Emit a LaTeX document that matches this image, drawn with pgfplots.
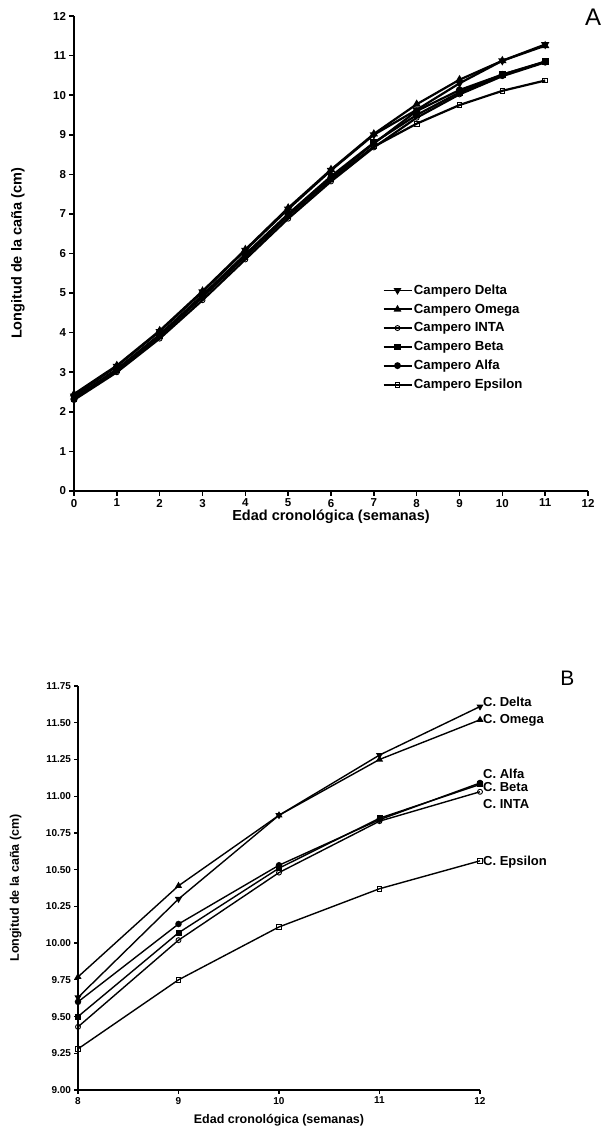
\documentclass[border=0pt]{standalone}
\usepackage{pgfplots}
\pgfplotsset{compat=1.18}
\usepackage{fontspec}
\setmainfont{Liberation Sans}
\begin{document}
\begin{tikzpicture}
\path (0pt,0pt) rectangle (604pt,-1130pt);
\pgfplotsset{
  every axis/.append style={
    scale only axis,
    axis lines=left,
    axis line style={-, line width=1.9pt},
    tick align=outside,
    major tick length=4.5pt,
    tick style={line width=1.6pt, black},
    /pgf/number format/assume math mode=true,
    clip=false,
  },
  dl/.style={black, line width=#1, mark=triangle*, mark options={rotate=180, scale=1.35, solid, fill=black}},
  om/.style={black, line width=#1, mark=triangle*, mark options={scale=1.35, solid, fill=black}},
  it/.style={black, line width=#1, mark=o, mark options={scale=1.25, solid, fill=white, line width=0.9pt}},
  bt/.style={black, line width=#1, mark=square*, mark options={scale=1.15, solid, fill=black}},
  al/.style={black, line width=#1, mark=*, mark options={scale=1.25, solid, fill=black}},
  ep/.style={black, line width=#1, mark=square, mark options={scale=1.15, solid, fill=white, line width=0.9pt}},
}
% ---------------- Panel A ----------------
\begin{axis}[
  at={(74pt,-491pt)}, anchor=south west,
  width=514pt, height=475pt,
  xmin=0, xmax=12, ymin=0, ymax=12,
  xtick={0,...,12}, ytick={0,...,12},
  tick label style={font=\fontsize{11.5}{13}\selectfont\bfseries},
  xlabel={\bfseries Edad cronológica (semanas)},
  ylabel={\bfseries Longitud de la caña (cm)},
  xlabel style={font=\fontsize{14.5}{16}\selectfont, at={(axis description cs:0.5,-0.055)}, anchor=center},
  ylabel style={font=\fontsize{14.5}{16}\selectfont, at={(axis description cs:-0.109,0.5)}, anchor=center},
  legend style={draw=none, fill=none, at={(axis cs:7.2,5.25)}, anchor=north west,
    font=\fontsize{13.2}{15}\selectfont\bfseries, row sep=5pt, inner sep=0pt,
    nodes={inner sep=1.5pt}},
  legend cell align=left,
  legend image code/.code={\draw[mark repeat=2, mark phase=2, #1, line width=1.8pt] plot coordinates {(0pt,0pt) (14pt,0pt) (28pt,0pt)};},
]
\addplot[dl=2.2pt] coordinates {(0,2.40) (1,3.15) (2,4.03) (3,5.03) (4,6.08) (5,7.12) (6,8.10) (7,9.00) (8,9.63) (9,10.30) (10,10.87) (11,11.28)};
\addlegendentry{Campero Delta}
\addplot[om=2.2pt] coordinates {(0,2.45) (1,3.17) (2,4.05) (3,5.05) (4,6.10) (5,7.15) (6,8.12) (7,9.02) (8,9.77) (9,10.39) (10,10.87) (11,11.25)};
\addlegendentry{Campero Omega}
\addplot[it=2.2pt] coordinates {(0,2.30) (1,3.00) (2,3.85) (3,4.82) (4,5.85) (5,6.88) (6,7.82) (7,8.68) (8,9.43) (9,10.02) (10,10.48) (11,10.83)};
\addlegendentry{Campero INTA}
\addplot[bt=2.2pt] coordinates {(0,2.35) (1,3.08) (2,3.95) (3,4.95) (4,5.98) (5,7.00) (6,7.95) (7,8.80) (8,9.50) (9,10.07) (10,10.52) (11,10.85)};
\addlegendentry{Campero Beta}
\addplot[al=2.2pt] coordinates {(0,2.32) (1,3.05) (2,3.92) (3,4.92) (4,5.95) (5,6.98) (6,7.92) (7,8.78) (8,9.60) (9,10.13) (10,10.52) (11,10.84)};
\addlegendentry{Campero Alfa}
\addplot[ep=2.2pt] coordinates {(0,2.33) (1,3.05) (2,3.90) (3,4.90) (4,5.92) (5,6.95) (6,7.88) (7,8.70) (8,9.28) (9,9.75) (10,10.11) (11,10.37)};
\addlegendentry{Campero Epsilon}
\node[font=\fontsize{24}{26}\selectfont, anchor=center] at (axis cs:12.12,11.98) {A};
\end{axis}
% ---------------- Panel B ----------------
\begin{axis}[
  at={(78pt,-1090pt)}, anchor=south west,
  width=402pt, height=404pt,
  xmin=8, xmax=12, ymin=9, ymax=11.75,
  xtick={8,...,12}, ytick={9,9.25,...,11.75},
  yticklabel style={/pgf/number format/.cd, fixed, fixed zerofill, precision=2},
  tick label style={font=\fontsize{10}{12}\selectfont\bfseries},
  axis line style={-, line width=1.5pt},
  tick style={line width=1.3pt, black},
  major tick length=3.5pt,
  xlabel={\bfseries Edad cronológica (semanas)},
  ylabel={\bfseries Longitud de la caña (cm)},
  xlabel style={font=\fontsize{12.5}{14}\selectfont, at={(axis description cs:0.5,-0.075)}, anchor=center},
  ylabel style={font=\fontsize{12.5}{14}\selectfont, at={(axis description cs:-0.155,0.5)}, anchor=center},
  every mark/.append style={scale=0.95},
]
\addplot[dl=1.4pt] coordinates {(8,9.63) (9,10.30) (10,10.87) (11,11.28) (12,11.61)};
\addplot[om=1.4pt] coordinates {(8,9.77) (9,10.39) (10,10.87) (11,11.25) (12,11.52)};
\addplot[it=1.4pt] coordinates {(8,9.43) (9,10.02) (10,10.48) (11,10.83) (12,11.03)};
\addplot[bt=1.4pt] coordinates {(8,9.50) (9,10.07) (10,10.51) (11,10.85) (12,11.08)};
\addplot[al=1.4pt] coordinates {(8,9.60) (9,10.13) (10,10.53) (11,10.84) (12,11.09)};
\addplot[ep=1.4pt] coordinates {(8,9.28) (9,9.75) (10,10.11) (11,10.37) (12,10.56)};
\begin{scope}[every node/.style={font=\fontsize{13}{14}\selectfont\bfseries, anchor=west, inner sep=1pt}]
\node at (axis cs:12.02,11.643) {C. Delta};
\node at (axis cs:12.02,11.514) {C. Omega};
\node at (axis cs:12.02,11.151) {C. Alfa};
\node at (axis cs:12.02,11.060) {C. Beta};
\node at (axis cs:12.02,10.946) {C. INTA};
\node at (axis cs:12.02,10.551) {C. Epsilon};
\end{scope}
\node[font=\fontsize{21}{23}\selectfont, anchor=center] at (axis cs:12.87,11.80) {B};
\end{axis}
\end{tikzpicture}
\end{document}
